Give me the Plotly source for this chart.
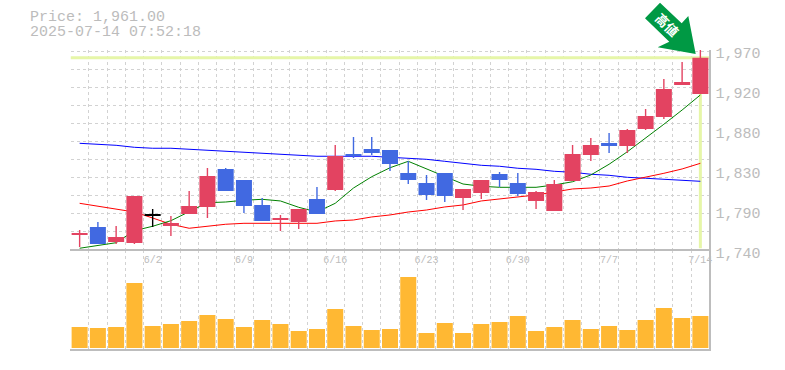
import plotly.graph_objects as go

W, H = 785, 370

dates = ["6/2", "6/9", "6/16", "6/23", "6/30", "7/7", "7/14"]
date_positions = [4, 9, 14, 19, 24, 29, 34]
price_ticks = [1740, 1786, 1832, 1878, 1924, 1970]
price_labels = ["1,740", "1,790", "1,830", "1,880", "1,920", "1,970"]

opens = [1757.3, 1766.5, 1749.2, 1748.0, 1779.2, 1767.6, 1781.4, 1789.5, 1833.2, 1820.5, 1791.8, 1774.5,
         1772.2, 1798.7, 1809.0, 1850.4, 1856.2, 1855.0, 1828.6, 1817.0, 1828.6, 1799.8, 1805.6, 1827.4,
         1817.0, 1796.4, 1784.9, 1819.4, 1849.3, 1863.0, 1859.6, 1879.2, 1893.0, 1929.8, 1919.4]
closes = [1759.6, 1746.9, 1755.0, 1802.1, 1780.6, 1771.0, 1790.6, 1825.1, 1807.9, 1790.6, 1773.4, 1776.8,
          1787.2, 1781.4, 1848.1, 1848.1, 1851.6, 1838.9, 1820.5, 1803.3, 1802.1, 1810.2, 1820.5, 1820.5,
          1804.4, 1806.7, 1815.9, 1850.4, 1860.8, 1859.6, 1878.0, 1894.1, 1925.2, 1933.2, 1961.0]
highs = [1763.0, 1772.2, 1767.6, 1802.1, 1787.2, 1779.1, 1807.9, 1834.3, 1834.3, 1820.5, 1799.8, 1780.3,
         1787.2, 1812.5, 1860.8, 1870.0, 1870.0, 1855.0, 1842.4, 1826.3, 1828.6, 1810.2, 1820.5, 1829.7,
         1828.6, 1807.9, 1820.5, 1860.8, 1868.8, 1874.6, 1879.2, 1902.2, 1936.7, 1956.2, 1970.0]
lows = [1743.5, 1746.9, 1746.9, 1746.9, 1766.5, 1756.1, 1781.4, 1776.8, 1807.9, 1782.6, 1773.4, 1761.9,
        1764.2, 1781.4, 1807.9, 1845.8, 1849.3, 1830.9, 1815.9, 1797.5, 1795.2, 1786.0, 1798.7, 1812.5,
        1802.1, 1787.2, 1784.9, 1819.4, 1842.4, 1851.6, 1851.6, 1878.0, 1890.7, 1929.8, 1919.4]
ma_short = [1742.0, 1745.4, 1748.4, 1762.2, 1767.3, 1773.7, 1783.7, 1794.4, 1795.2, 1797.2, 1798.3, 1796.4,
            1789.1, 1783.7, 1793.7, 1811.3, 1824.3, 1834.6, 1842.0, 1833.2, 1825.1, 1815.9, 1813.3, 1812.1,
            1812.1, 1812.1, 1814.8, 1818.5, 1826.3, 1838.6, 1853.0, 1868.5, 1884.6, 1901.0, 1918.3]
ma_mid = [1793.7, 1790.3, 1786.8, 1783.7, 1776.8, 1769.6, 1765.0, 1767.6, 1769.6, 1770.7, 1770.7, 1770.7,
          1770.7, 1770.7, 1773.4, 1774.5, 1778.0, 1780.3, 1783.7, 1786.0, 1789.5, 1791.8, 1796.4, 1798.7,
          1801.0, 1803.3, 1806.7, 1810.2, 1811.3, 1813.6, 1819.4, 1823.6, 1828.2, 1833.2, 1839.7]
ma_long = [1862.7, 1861.6, 1860.4, 1858.1, 1857.0, 1857.0, 1855.8, 1854.7, 1853.5, 1852.4, 1851.2, 1850.1,
           1848.9, 1847.8, 1847.8, 1847.8, 1847.8, 1846.6, 1845.5, 1844.3, 1842.0, 1839.7, 1837.4, 1836.3,
           1834.0, 1832.8, 1830.5, 1829.4, 1827.1, 1825.9, 1823.6, 1822.5, 1821.3, 1820.2, 1819.0]
volumes = [21, 20, 21, 65, 22, 24, 27, 33, 29, 21, 28, 24, 17, 19, 39, 22, 18, 19,
           71, 15, 25, 15, 24, 26, 32, 17, 21, 28, 19, 22, 18, 28, 40, 30, 32]
last_price = 1961.0

RED, BLUE = "#e34361", "#4169e1"
GRID = "#d2d2d2"
AXIS = "#bdbdbd"
TEXT = "#bcbcbc"
MONO = "Liberation Mono"
xs = list(range(len(closes)))


def body_color(o, c):
    if abs(c - o) < 1.5:
        return "#000000"
    return RED if c > o else BLUE


colors = [body_color(o, c) for o, c in zip(opens, closes)]

fig = go.Figure()
fig.add_trace(go.Scatter(x=[-0.5, xs[-1] + 0.5], y=[last_price, last_price], mode="lines",
                         line=dict(color="#e6f6a8", width=3), zorder=0, hoverinfo="skip"))
fig.add_trace(go.Scatter(x=[xs[-1], xs[-1]], y=[1742, last_price], mode="lines",
                         line=dict(color="#e6f6a8", width=3), zorder=0, hoverinfo="skip"))
for ma, col in ((ma_long, "#0000ff"), (ma_mid, "#ff0000"), (ma_short, "#008000")):
    fig.add_trace(go.Scatter(x=xs, y=ma, mode="lines", line=dict(color=col, width=1), zorder=1))
for col in (RED, BLUE, "#000000"):
    wx, wy = [], []
    for i in xs:
        if colors[i] == col:
            wx += [i, i, None]
            wy += [lows[i], highs[i], None]
    fig.add_trace(go.Scatter(x=wx, y=wy, mode="lines", line=dict(color=col, width=1.4), zorder=2))
fig.add_trace(go.Bar(x=xs, y=[abs(c - o) for o, c in zip(opens, closes)],
                     base=[min(o, c) for o, c in zip(opens, closes)], width=0.877,
                     marker=dict(color=colors, line=dict(width=0)), zorder=3))
fig.add_trace(go.Bar(x=xs, y=volumes, width=0.877, marker=dict(color="#ffb833", line=dict(width=0)),
                     xaxis="x2", yaxis="y2"))

minor_x = dict(tick0=-0.5, dtick=1, showgrid=True, gridcolor=GRID, griddash="3px,3px", gridwidth=1, ticks="")
x_dom = [70.5 / W, 709.5 / W]


def frame_line(x0, y0, x1, y1):
    return dict(type="line", xref="paper", yref="paper", layer="above", line=dict(color=AXIS, width=2),
                x0=x0 / W, x1=x1 / W, y0=1 - y0 / H, y1=1 - y1 / H)


fig.update_layout(
    template="none",
    width=W, height=H, margin=dict(l=0, r=0, t=0, b=0), showlegend=False,
    paper_bgcolor="white", plot_bgcolor="white", barmode="overlay",
    xaxis=dict(domain=x_dom, range=[-0.5, 34.5], anchor="y", showgrid=False, zeroline=False, automargin=False,
               tickmode="array", tickvals=date_positions, ticktext=dates, ticks="",
               tickfont=dict(family=MONO, size=10, color=TEXT), ticklabelstandoff=2, minor=minor_x),
    yaxis=dict(domain=[1 - 250 / H, 1 - 50 / H], range=[1740, 1970], side="right", anchor="x", automargin=False,
               showgrid=False, zeroline=False, tickmode="array", tickvals=price_ticks,
               ticktext=price_labels, ticks="", tickfont=dict(family=MONO, size=15, color=TEXT),
               ticklabelshift=3, ticklabelstandoff=5,
               minor=dict(tick0=1740, dtick=20.8, showgrid=True, gridcolor=GRID, griddash="3px,3px",
                          gridwidth=1, ticks="")),
    xaxis2=dict(domain=x_dom, range=[-0.5, 34.5], anchor="y2", showgrid=False, zeroline=False, automargin=False,
                showticklabels=False, tickmode="array", tickvals=[], ticks="", minor=minor_x),
    yaxis2=dict(domain=[1 - 350 / H, 1 - 250 / H], range=[-2, 98], side="right", anchor="x2", automargin=False,
                showgrid=False, zeroline=False, showticklabels=False, ticks=""),
    shapes=[frame_line(70, 250, 710, 250), frame_line(70, 350, 710, 350), frame_line(710, 50, 710, 351),
            dict(type="path", xref="paper", yref="paper", layer="above", line=dict(width=0),
                 fillcolor="#009944",
                 path="M {} {} L {} {} L {} {} L {} {} L {} {} L {} {} L {} {} Z".format(
                     *sum(([px / W, 1 - py / H] for px, py in
                           [(660, 2.7), (645, 18.3), (669.3, 41.7), (657.7, 47.3), (695.7, 54),
                            (688.3, 16), (681.7, 23.3)]), [])))],
    annotations=[
        dict(text="Price: 1,961.00", xref="paper", yref="paper", x=29 / W, y=1 - 17.5 / H, xanchor="left",
             yanchor="middle", showarrow=False, borderpad=0, font=dict(family=MONO, size=15, color=TEXT)),
        dict(text="2025-07-14 07:52:18", xref="paper", yref="paper", x=29 / W, y=1 - 33 / H, xanchor="left",
             yanchor="middle", showarrow=False, borderpad=0, font=dict(family=MONO, size=15, color=TEXT)),
        dict(text="<b>高値</b>", xref="paper", yref="paper", x=667 / W, y=1 - 25 / H, textangle=45,
             xanchor="center", yanchor="middle", showarrow=False,
             font=dict(family="Noto Sans CJK JP", size=13, color="white")),
    ],
)
assert all(len(a) == 35 for a in (opens, closes, highs, lows, ma_short, ma_mid, ma_long, volumes))
fig.write_html("out.html", config=dict(displayModeBar=False), post_script="document.body.style.margin='0';")
